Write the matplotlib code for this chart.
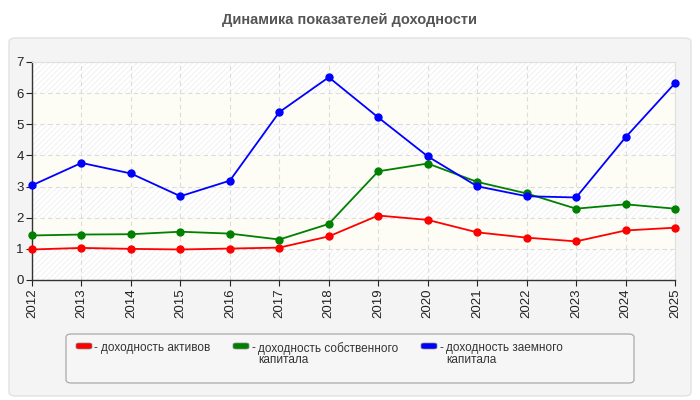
import matplotlib
matplotlib.use("Agg")
import matplotlib.pyplot as plt
from matplotlib.patches import FancyBboxPatch

plt.rcParams['font.family'] = ['Liberation Sans', 'DejaVu Sans']
plt.rcParams['hatch.linewidth'] = 0.5
plt.rcParams['hatch.color'] = '#ececec'

years = list(range(2012, 2026))
assets = [0.98, 1.03, 1.00, 0.98, 1.01, 1.04, 1.40, 2.07, 1.93, 1.53, 1.36, 1.24, 1.59, 1.68]
equity = [1.43, 1.46, 1.47, 1.55, 1.49, 1.30, 1.80, 3.49, 3.74, 3.15, 2.78, 2.29, 2.43, 2.29]
borrowed = [3.04, 3.76, 3.42, 2.69, 3.19, 5.39, 6.51, 5.22, 3.97, 3.01, 2.69, 2.65, 4.58, 6.32]
labels = ["доходность активов", "доходность собственного\nкапитала", "доходность заемного\nкапитала"]
colors = ["#ff0000", "#008000", "#0000ff"]

fig = plt.figure(figsize=(7, 4), dpi=100, facecolor="white")

# outer panel
fig.patches.append(FancyBboxPatch((9/700, 4/400), 682/700, 358/400,
                                  boxstyle="round,pad=0,rounding_size=0.01",
                                  transform=fig.transFigure, facecolor="#f4f4f4",
                                  edgecolor="#e2e2e2", lw=1.0, zorder=-10))
fig.text(0.5, 1 - 20/400, "Динамика показателей доходности", ha="center", va="center",
         fontsize=10.5, fontweight="bold", color="#555555")

ax = fig.add_axes([32/700, 120/400, 643/700, 218/400])
ax.set_facecolor("white")
# alternating bands: hatched / plain light yellow
for lo in range(0, 7):
    if lo % 2 == 0:
        ax.axhspan(lo, lo + 1, facecolor="white", hatch="//////", edgecolor="#ececec",
                   lw=0, zorder=0)
    else:
        ax.axhspan(lo, lo + 1, facecolor="#fdfdf6", lw=0, zorder=0)

for vals, c in zip([assets, equity, borrowed], colors):
    ax.plot(years, vals, color=c, lw=1.3, marker="o", markersize=5, zorder=3,
            clip_on=False)

ax.set_xlim(2012, 2025)
ax.set_ylim(0, 7)
ax.set_xticks(years)
ax.set_xticklabels([str(y) for y in years], rotation=90)
ax.set_yticks(range(0, 8))
ax.grid(True, color="#dcdcdc", ls=(0, (4, 3)), lw=0.8)
ax.set_axisbelow(True)
for s in ["top", "right"]:
    ax.spines[s].set_color("#e0e0e0")
    ax.spines[s].set_linewidth(0.8)
for s in ["left", "bottom"]:
    ax.spines[s].set_color("#333333")
    ax.spines[s].set_linewidth(1.0)
ax.tick_params(labelsize=9.5, colors="#222222", length=4, width=0.8, pad=2)

# legend box
fig.patches.append(FancyBboxPatch((66/700, 1 - 383/400), 568/700, 49/400,
                                  boxstyle="round,pad=0,rounding_size=0.008",
                                  transform=fig.transFigure, facecolor="#f6f6f6",
                                  edgecolor="#aaaaaa", lw=0.9, zorder=1))
leg_x = [76, 233, 421]
for lx, lab, c in zip(leg_x, labels, colors):
    fig.patches.append(FancyBboxPatch((lx/700, 1 - 349/400), 16/700, 6/400,
                                      boxstyle="round,pad=0,rounding_size=0.004",
                                      transform=fig.transFigure, facecolor=c,
                                      edgecolor="#888888", lw=0.5, zorder=2))
    fig.text((lx + 18)/700, 1 - 342/400, "-", ha="left", va="top", fontsize=8.5,
             color="#333333")
    fig.text((lx + 25)/700, 1 - 342/400, lab, ha="left", va="top", fontsize=8.5,
             color="#333333", linespacing=0.95)

fig.savefig("out.png", dpi=100, facecolor=fig.get_facecolor())
